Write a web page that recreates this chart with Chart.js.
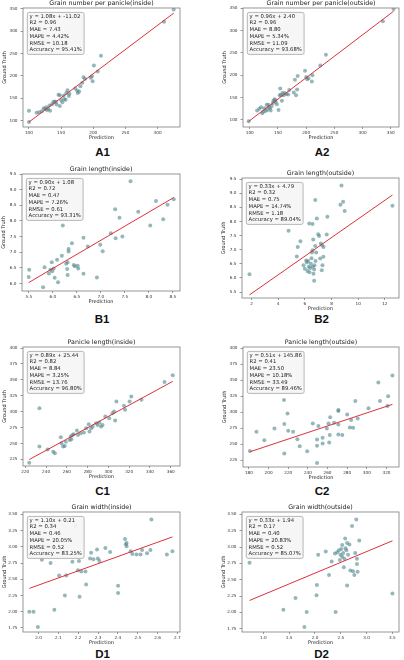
<!DOCTYPE html>
<html>
<head>
<meta charset="utf-8">
<script src="https://cdn.jsdelivr.net/npm/chart.js@4.4.1/dist/chart.umd.min.js"></script>
<style>
  html, body { margin: 0; padding: 0; background: #fff; }
  #wrap { position: relative; width: 404px; height: 660px; overflow: hidden; background: #fff; }
  #wrap canvas { position: absolute; }
  .tag { position: absolute; width: 60px; text-align: center; font: bold 11.5px "Liberation Sans", Arial, sans-serif; line-height: 11.5px; color: #111; }
</style>
</head>
<body>
<div id="wrap"></div>
<script>
// ---- A1: grain number per panicle (inside)
const a1Pred = [100, 100, 112, 116, 120, 123, 125, 127, 128, 130, 132, 133, 136, 138, 140, 142, 143, 146, 148, 148, 150, 152, 154, 155, 157, 158, 160, 162, 163, 172, 175, 176, 178, 180, 183, 185, 187, 196, 198, 199, 201, 207, 212, 310, 325];
const a1Truth = [122, 97, 118, 119, 121, 128, 126, 130, 124, 126, 134, 122, 137, 142, 143, 142, 136, 158, 157, 133, 146, 141, 156, 148, 147, 162, 168, 155, 160, 172, 167, 162, 165, 177, 185, 197, 193, 196, 199, 188, 223, 210, 245, 321, 348];
const a1Fit = [1.08, -11.02];
const a1Stats = ['R2 = 0.96', 'MAE = 7.43', 'MAPE = 4.42%', 'RMSE = 10.18', 'Accuracy = 95.41%'];
const a1XTicks = ['100', '150', '200', '250', '300'];
const a1YTicks = ['100', '150', '200', '250', '300', '350'];
const a1XLim = [90.8, 334.8];
const a1YLim = [86, 351.5];

// ---- A2: grain number per panicle (outside)
const a2Pred = [98, 113, 117, 120, 122, 124, 126, 128, 130, 131, 133, 134, 136, 137, 139, 141, 142, 144, 145, 146, 148, 151, 153, 154, 155, 157, 158, 160, 162, 165, 168, 170, 178, 180, 182, 184, 185, 198, 200, 202, 204, 210, 211, 225, 235, 336, 355];
const a2Truth = [97, 121, 125, 128, 115, 118, 126, 120, 134, 122, 134, 128, 126, 121, 131, 138, 143, 146, 144, 140, 135, 122, 155, 170, 156, 143, 160, 155, 160, 158, 157, 167, 161, 190, 155, 168, 198, 210, 196, 191, 193, 186, 200, 222, 246, 321, 348];
const a2Fit = [0.96, 2.40];
const a2Stats = ['R2 = 0.96', 'MAE = 8.80', 'MAPE = 5.34%', 'RMSE = 11.09', 'Accuracy = 93.68%'];
const a2XTicks = ['100', '150', '200', '250', '300', '350'];
const a2YTicks = ['100', '150', '200', '250', '300', '350'];
const a2XLim = [88, 364.6];
const a2YLim = [84, 350.5];

// ---- B1: grain length (inside)
const b1Pred = [5.51, 5.50, 5.80, 5.83, 5.98, 5.95, 5.92, 5.99, 6.02, 6.04, 6.09, 6.11, 6.19, 6.21, 6.28, 6.31, 6.30, 6.33, 6.33, 6.31, 6.40, 6.44, 6.46, 6.52, 6.53, 6.64, 6.64, 6.73, 6.92, 6.99, 7.04, 7.21, 7.30, 7.31, 7.39, 7.45, 7.62, 7.78, 8.03, 8.15, 8.30, 8.39, 8.52];
const b1Truth = [6.44, 6.21, 5.88, 6.52, 6.68, 6.44, 6.32, 6.39, 6.48, 6.18, 6.76, 6.04, 6.89, 7.85, 6.63, 6.68, 6.46, 7.10, 7.02, 6.27, 7.29, 6.59, 6.55, 6.57, 6.48, 7.46, 6.31, 7.18, 6.19, 7.24, 7.03, 7.61, 8.37, 7.45, 8.10, 7.50, 9.27, 8.29, 7.85, 8.64, 8.05, 8.52, 8.69];
const b1Fit = [0.90, 1.08];
const b1Stats = ['R2 = 0.72', 'MAE = 0.47', 'MAPE = 7.26%', 'RMSE = 0.61', 'Accuracy = 93.31%'];
const b1XTicks = ['5.5', '6.0', '6.5', '7.0', '7.5', '8.0', '8.5'];
const b1YTicks = ['6.0', '6.5', '7.0', '7.5', '8.0', '8.5', '9.0', '9.5'];
const b1XLim = [5.36, 8.65];
const b1YLim = [5.76, 9.5];

// ---- B2: grain length (outside)
const b2Pred = [1.85, 4.78, 5.40, 5.47, 5.67, 5.90, 6.00, 6.10, 6.15, 6.20, 6.25, 6.30, 6.33, 6.35, 6.40, 6.45, 6.50, 6.53, 6.58, 6.58, 6.60, 6.63, 6.65, 6.70, 6.72, 6.78, 6.78, 6.80, 6.90, 6.85, 7.00, 7.07, 7.15, 7.20, 7.27, 7.30, 7.32, 7.39, 7.40, 7.64, 7.69, 8.67, 8.75, 8.87, 8.99, 12.57, 6.70];
const b2Truth = [6.13, 7.67, 6.76, 7.10, 7.30, 6.45, 6.33, 6.62, 6.55, 6.25, 6.60, 6.40, 7.93, 6.20, 6.35, 6.50, 6.70, 6.90, 7.91, 6.98, 6.40, 7.36, 6.15, 6.30, 6.45, 8.76, 7.13, 6.60, 8.11, 6.90, 7.55, 7.49, 6.69, 7.22, 6.27, 7.16, 6.45, 6.75, 7.10, 7.54, 8.17, 8.59, 9.27, 8.70, 8.37, 8.56, 5.90];
const b2Fit = [0.33, 4.79];
const b2Stats = ['R2 = 0.32', 'MAE = 0.75', 'MAPE = 14.74%', 'RMSE = 1.18', 'Accuracy = 89.04%'];
const b2XTicks = ['2', '4', '6', '8', '10', '12'];
const b2YTicks = ['5.5', '6.0', '6.5', '7.0', '7.5', '8.0', '8.5', '9.0', '9.5'];
const b2XLim = [1.29, 13.06];
const b2YLim = [5.29, 9.54];

// ---- C1: panicle length (inside)
const c1Pred = [223.8, 233.6, 233.6, 241.5, 246.9, 248.5, 254.2, 254.8, 256.4, 258.0, 259.0, 262.8, 264.3, 263.7, 265.3, 266.6, 269.7, 270.7, 273.2, 276.4, 278.6, 281.1, 281.8, 283.4, 284.9, 288.1, 289.7, 291.3, 292.9, 294.4, 297.0, 300.8, 303.9, 305.5, 306.5, 307.7, 315.0, 316.0, 320.4, 322.0, 331.8, 354.0, 361.9];
const c1Truth = [219.7, 305.4, 245.0, 240.5, 237.1, 234.5, 259.7, 250.2, 245.0, 246.0, 252.8, 255.5, 256.5, 260.7, 263.4, 264.4, 270.2, 263.4, 266.0, 267.0, 273.9, 280.2, 268.6, 273.9, 276.5, 281.8, 279.1, 282.8, 276.5, 279.1, 292.3, 289.6, 297.5, 300.1, 286.0, 315.9, 309.1, 302.8, 315.9, 323.8, 318.5, 346.4, 357.0];
const c1Fit = [0.89, 25.44];
const c1Stats = ['R2 = 0.82', 'MAE = 8.84', 'MAPE = 3.25%', 'RMSE = 13.76', 'Accuracy = 96.80%'];
const c1XTicks = ['220', '240', '260', '280', '300', '320', '340', '360'];
const c1YTicks = ['225', '250', '275', '300', '325', '350', '375', '400'];
const c1XLim = [217.8, 368.9];
const c1YLim = [214.5, 401.6];

// ---- C2: panicle length (outside)
const c2Pred = [181, 187.7, 195.7, 206, 215.7, 216, 216, 219.3, 220, 225, 229.3, 231.7, 239.3, 245, 249.3, 249.3, 249.3, 250.7, 255, 255, 259.3, 261, 261.7, 262.3, 262.7, 266.7, 271, 271, 271, 271, 275, 280, 282.7, 284, 286, 288.3, 290.7, 301.7, 311.7, 313.3, 321.7, 321, 326];
const c2Truth = [239.6, 269.4, 256.3, 274.6, 319, 281.4, 235.4, 298.1, 271, 269.4, 257.9, 246.9, 239.1, 282.5, 257.4, 247.5, 220.8, 278.3, 260, 251.1, 274.6, 282.5, 252.7, 264.2, 291.9, 283.5, 303.4, 301.8, 280.9, 265.2, 264.2, 296.5, 276.2, 287.7, 275.7, 317.5, 290.3, 306, 346.2, 317.5, 324.8, 309.6, 357.2];
const c2Fit = [0.51, 145.86];
const c2Stats = ['R2 = 0.41', 'MAE = 23.50', 'MAPE = 10.18%', 'RMSE = 33.49', 'Accuracy = 89.46%'];
const c2XTicks = ['180', '200', '220', '240', '260', '280', '300', '320'];
const c2YTicks = ['225', '250', '275', '300', '325', '350', '375', '400'];
const c2XLim = [174, 332.7];
const c2YLim = [214.5, 401.6];

// ---- D1: grain width (inside)
const d1Pred = [1.954, 1.975, 1.997, 2.017, 2.061, 2.08, 2.104, 2.133, 2.14, 2.171, 2.187, 2.199, 2.204, 2.207, 2.216, 2.237, 2.24, 2.26, 2.265, 2.277, 2.299, 2.295, 2.307, 2.337, 2.361, 2.401, 2.401, 2.436, 2.44, 2.444, 2.444, 2.464, 2.473, 2.494, 2.514, 2.522, 2.547, 2.564, 2.569, 2.647, 2.675];
const d1Truth = [2.00, 2.00, 1.765, 2.80, 2.75, 2.03, 2.56, 2.25, 2.56, 2.77, 3.32, 2.64, 2.78, 2.23, 2.62, 2.62, 2.42, 2.82, 2.91, 2.81, 2.82, 2.96, 2.78, 2.98, 2.92, 2.40, 2.29, 3.12, 3.04, 3.06, 3.01, 2.93, 2.89, 2.88, 2.88, 2.95, 2.90, 2.95, 3.42, 2.88, 2.93];
const d1Fit = [1.10, 0.21];
const d1Stats = ['R2 = 0.34', 'MAE = 0.46', 'MAPE = 20.05%', 'RMSE = 0.52', 'Accuracy = 83.25%'];
const d1XTicks = ['2.0', '2.1', '2.2', '2.3', '2.4', '2.5', '2.6', '2.7'];
const d1YTicks = ['1.75', '2.00', '2.25', '2.50', '2.75', '3.00', '3.25', '3.50'];
const d1XLim = [1.922, 2.713];
const d1YLim = [1.688, 3.536];

// ---- D2: grain width (outside)
const d2Pred = [0.733, 1.388, 1.623, 1.84, 1.795, 2.03, 2.037, 2.062, 2.209, 2.272, 2.323, 2.40, 2.387, 2.431, 2.463, 2.482, 2.495, 2.508, 2.527, 2.527, 2.546, 2.559, 2.571, 2.584, 2.59, 2.609, 2.622, 2.622, 2.641, 2.667, 2.686, 2.718, 2.737, 2.762, 2.78, 2.80, 2.813, 2.813, 2.826, 2.857, 3.50];
const d2Truth = [2.76, 2.04, 2.22, 2.005, 1.776, 2.26, 2.42, 2.88, 2.93, 2.57, 2.78, 2.005, 2.90, 2.92, 2.95, 2.80, 2.88, 2.97, 3.03, 2.85, 2.91, 2.69, 2.82, 3.13, 2.98, 2.95, 3.06, 2.41, 2.88, 3.04, 2.64, 3.32, 2.63, 2.57, 2.91, 3.42, 2.82, 2.74, 2.62, 3.10, 2.29];
const d2Fit = [0.33, 1.94];
const d2Stats = ['R2 = 0.17', 'MAE = 0.40', 'MAPE = 20.83%', 'RMSE = 0.52', 'Accuracy = 85.07%'];
const d2XTicks = ['1.0', '1.5', '2.0', '2.5', '3.0', '3.5'];
const d2YTicks = ['1.75', '2.00', '2.25', '2.50', '2.75', '3.00', '3.25', '3.50'];
const d2XLim = [0.587, 3.627];
const d2YLim = [1.699, 3.536];

const FONT = '"DejaVu Sans", "Liberation Sans", sans-serif';
const wrap = document.getElementById('wrap');

// plot frame + stats text box (matplotlib style)
function frameBox(lines) {
    return {
        id: 'frameBox',
        afterDatasetsDraw(chart) {
            const ctx = chart.ctx, a = chart.chartArea;
            ctx.save();
            ctx.strokeStyle = '#7d7d7d';
            ctx.lineWidth = 0.8;
            ctx.strokeRect(a.left, a.top, a.right - a.left, a.bottom - a.top);

            ctx.font = '5.3px ' + FONT;
            const bw = Math.max(...lines.map(t => ctx.measureText(t).width)) + 4.6;
            const bx = a.left + 4.3, by = a.top + 4.4, bh = 42;
            ctx.beginPath();
            ctx.roundRect(bx, by, bw, bh, 1.8);
            ctx.fillStyle = 'rgba(245,245,245,0.92)';
            ctx.fill();
            ctx.strokeStyle = '#a5a5a5';
            ctx.lineWidth = 0.8;
            ctx.stroke();
            ctx.fillStyle = '#1a1a1a';
            ctx.textBaseline = 'middle';
            lines.forEach((t, i) => ctx.fillText(t, bx + 2.3, by + 4 + i * 6.7));
            ctx.restore();
        }
    };
}

function axis(ticks, lim, isX, label) {
    return {
        type: 'linear',
        min: lim[0],
        max: lim[1],
        afterFit: s => { if (isX) s.height = 14; else s.width = 23; },
        afterBuildTicks: s => { s.ticks = ticks.map(t => ({ value: Number(t) })); },
        ticks: {
            callback: (v, i) => ticks[i],
            autoSkip: false,
            maxRotation: 0,
            padding: isX ? 0.9 : 3,
            color: '#333',
            font: { family: FONT, size: 4.2 }
        },
        grid: { display: true, drawOnChartArea: false, drawTicks: true, tickLength: isX ? 2 : 2.5, color: '#555', lineWidth: 0.6 },
        border: { display: false },
        title: {
            display: true,
            text: label,
            color: '#222',
            font: { family: FONT, size: 5 },
            padding: isX ? { top: 0, bottom: 0 } : { top: 2, bottom: 0 }
        }
    };
}

function panel(tag, title, pred, truth, fit, stats, xTicks, yTicks, xLim, yLim, box, tagY) {
    const [l, t, r, b] = box;
    const W = r - l + 25, H = b - t + 22;
    const cv = document.createElement('canvas');
    cv.width = W; cv.height = H;
    cv.style.left = (l - 23) + 'px';
    cv.style.top = (t - 8) + 'px';
    cv.style.width = W + 'px';
    cv.style.height = H + 'px';
    wrap.appendChild(cv);

    const lo = Math.min(...pred), hi = Math.max(...pred);
    const fitLine = [{ x: lo, y: fit[0] * lo + fit[1] }, { x: hi, y: fit[0] * hi + fit[1] }];
    const eq = 'y = ' + fit[0].toFixed(2) + 'x + ' + fit[1].toFixed(2);

    new Chart(cv, {
        type: 'scatter',
        data: {
            datasets: [
                { type: 'line', data: fitLine, borderColor: 'rgba(218,38,48,0.95)', borderWidth: 1, pointRadius: 0, fill: false, order: 0 },
                { data: pred.map((x, i) => ({ x: x, y: truth[i] })), pointRadius: 2, backgroundColor: 'rgba(80,135,140,0.6)', borderWidth: 0, order: 1 }
            ]
        },
        options: {
            responsive: false,
            animation: false,
            devicePixelRatio: 1,
            layout: { padding: { top: 0, left: 0, right: 2, bottom: 0 } },
            plugins: {
                legend: { display: false },
                tooltip: { enabled: false },
                title: {
                    display: true,
                    fullSize: false,
                    text: title,
                    color: '#222',
                    font: { family: FONT, size: 6.3, weight: 'normal' },
                    padding: { top: 0, bottom: 0.44 }
                }
            },
            scales: {
                x: axis(xTicks, xLim, true, 'Prediction'),
                y: axis(yTicks, yLim, false, 'Ground Truth')
            }
        },
        plugins: [frameBox([eq].concat(stats))]
    });

    const lab = document.createElement('div');
    lab.className = 'tag';
    lab.textContent = tag;
    lab.style.left = ((l + r) / 2 - 30) + 'px';
    lab.style.top = (tagY - 5.75) + 'px';
    wrap.appendChild(lab);
}

panel('A1', 'Grain number per panicle(inside)', a1Pred, a1Truth, a1Fit, a1Stats, a1XTicks, a1YTicks, a1XLim, a1YLim, [23, 8, 182, 127], 152.5);
panel('A2', 'Grain number per panicle(outside)', a2Pred, a2Truth, a2Fit, a2Stats, a2XTicks, a2YTicks, a2XLim, a2YLim, [243, 8, 401, 127], 152.5);
panel('B1', 'Grain length(inside)', b1Pred, b1Truth, b1Fit, b1Stats, b1XTicks, b1YTicks, b1XLim, b1YLim, [22, 174, 182, 291], 320);
panel('B2', 'Grain length(outside)', b2Pred, b2Truth, b2Fit, b2Stats, b2XTicks, b2YTicks, b2XLim, b2YLim, [242, 178, 401, 298], 320);
panel('C1', 'Panicle length(inside)', c1Pred, c1Truth, c1Fit, c1Stats, c1XTicks, c1YTicks, c1XLim, c1YLim, [23, 347, 182, 466], 491.7);
panel('C2', 'Panicle length(outside)', c2Pred, c2Truth, c2Fit, c2Stats, c2XTicks, c2YTicks, c2XLim, c2YLim, [243, 347, 401, 467], 491.7);
panel('D1', 'Grain width(inside)', d1Pred, d1Truth, d1Fit, d1Stats, d1XTicks, d1YTicks, d1XLim, d1YLim, [23, 512, 182, 632], 654.5);
panel('D2', 'Grain width(outside)', d2Pred, d2Truth, d2Fit, d2Stats, d2XTicks, d2YTicks, d2XLim, d2YLim, [242, 512, 401, 632], 654.5);
</script>
</body>
</html>
